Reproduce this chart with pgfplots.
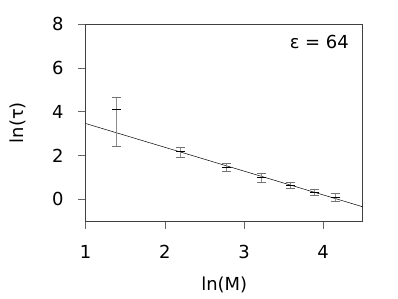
\documentclass[border=0pt]{standalone}
\usepackage{fontspec}
\setmainfont{DejaVu Sans}
\usepackage{pgfplots}
\pgfplotsset{compat=1.18}
\begin{document}
\fontsize{18}{21}\selectfont
\begin{tikzpicture}
\begin{axis}[
  width=277bp, height=196.7bp, scale only axis,
  xmin=1, xmax=4.5, ymin=-1, ymax=8,
  xtick={1,2,3,4}, ytick={0,2,4,6,8},
  tick align=outside, xtick pos=left, ytick pos=left,
  major tick length=8bp,
  axis line style={black!75, line width=0.6pt},
  every tick/.style={black!60, line width=0.6pt},
  /pgf/number format/assume math mode=true,
  tick label style={font=\fontsize{18}{21}\selectfont},
  xticklabel style={yshift=-10bp},
  yticklabel style={xshift=-8bp},
  xlabel={ln(M)}, ylabel={ln(τ)},
  label style={font=\fontsize{18}{21}\selectfont},
  every axis x label/.style={at={([yshift=-64bp]axis description cs:0.5,0)}, anchor=center},
  every axis y label/.style={at={([xshift=-67.7bp]axis description cs:0,0.5)}, anchor=center, rotate=90},
  clip=false,
]
\addplot[black, line width=0.5pt] coordinates {(1,3.46) (4.5,-0.35)};
\addplot[only marks, black, mark=-, mark size=4.5bp, mark options={line width=0.6pt},
  error bars/.cd, y dir=both, y explicit,
  error bar style={black!45, line width=0.9pt},
  error mark options={black!55, mark size=4.5bp, line width=0.6pt, rotate=90}]
  table[x=x, y=y, y error plus=ep, y error minus=em] {
  x y ep em
  1.386 4.09 0.59 1.68
  2.197 2.20 0.19 0.28
  2.773 1.465 0.165 0.195
  3.219 0.99 0.17 0.20
  3.584 0.64 0.11 0.15
  3.892 0.335 0.105 0.155
  4.159 0.08 0.18 0.17
};
\node[anchor=north east, inner sep=0pt, font=\fontsize{18}{21}\selectfont] at ([shift={(-13.7bp,-10.7bp)}]rel axis cs:1,1) {ε = 64};
\end{axis}
\path[use as bounding box] ([shift={(-85.7bp,-78bp)}]current axis.south west) rectangle ([shift={(35.3bp,24.3bp)}]current axis.north east);
\end{tikzpicture}
\end{document}
